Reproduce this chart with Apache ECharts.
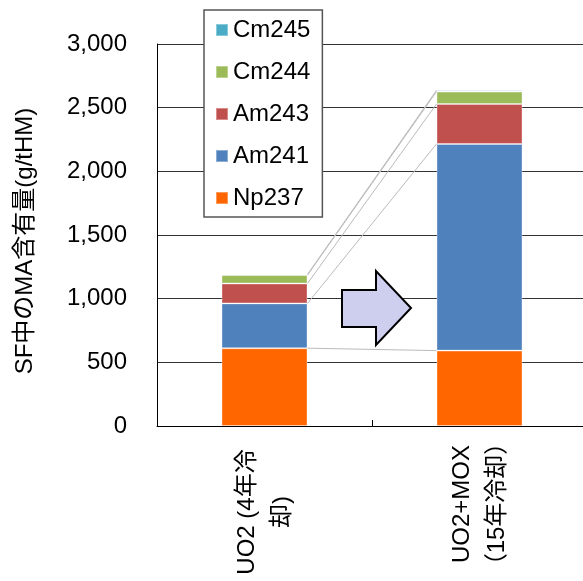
<!DOCTYPE html>
<html>
<head>
<meta charset="utf-8">
<script src="https://cdn.jsdelivr.net/npm/echarts@6/dist/echarts.min.js"></script>
<style>html,body{margin:0;padding:0;background:#fff}#c{width:583px;height:581px}</style>
</head>
<body>
<div id="c"></div>
<script>
var categories = ['UO2 (4年冷\n却)', 'UO2+MOX\n（15年冷却）'];
var seriesNames = ['Np237', 'Am241', 'Am243', 'Cm244', 'Cm245'];
var np237 = [611, 592];
var am241 = [352, 1623];
var am243 = [156, 314];
var cm244 = [66, 97];
var cm245 = [6, 10];
var yTicks = [0, 500, 1000, 1500, 2000, 2500, 3000];
var colors = ['#FF6600', '#4F81BD', '#C0504D', '#9BBB59', '#4BACC6'];
var legendOrder = ['Cm245', 'Cm244', 'Am243', 'Am241', 'Np237'];

var values = [np237, am241, am243, cm244, cm245];
var FONT = '"Liberation Sans", Arial, "Noto Sans CJK JP", sans-serif';

var cumData = [];
var running = [0, 0];
values.forEach(function (arr) {
  running = [running[0] + arr[0], running[1] + arr[1]];
  cumData.push([running[0], running[1]]);
});

var barSeries = seriesNames.map(function (n, i) {
  return {
    name: n,
    type: 'bar',
    stack: 'total',
    barWidth: '40%',
    data: values[i],
    itemStyle: { color: colors[i], borderColor: 'rgba(255,255,255,0.35)', borderWidth: 1 },
    emphasis: { disabled: true }
  };
});

var connector = {
  type: 'custom',
  silent: true,
  data: cumData,
  z: 5,
  renderItem: function (params, api) {
    var a = api.coord([0, api.value(0)]);
    var b = api.coord([1, api.value(1)]);
    var half = api.size([1, 0])[0] * 0.2;
    return {
      type: 'line',
      shape: { x1: a[0] + half, y1: a[1], x2: b[0] - half, y2: b[1] },
      style: { stroke: '#BBBBBB', lineWidth: 1 }
    };
  },
  encode: { x: 0, y: 1 }
};

var catData = categories.map(function (c, i) {
  return i === 1 ? { value: c, textStyle: { align: 'center', verticalAlign: 'middle', padding: [0, 0, 0, 16] } } : c;
});

var chart = echarts.init(document.getElementById('c'), null, { renderer: 'canvas' });
chart.setOption({
  animation: false,
  backgroundColor: '#fff',
  textStyle: { fontFamily: FONT },
  grid: { left: 157, top: 44, width: 430, bottom: 155, containLabel: false, outerBoundsMode: 'none' },
  legend: {
    data: legendOrder,
    orient: 'vertical',
    left: 204,
    top: 10,
    padding: [8, 12, 7, 11],
    itemGap: 18,
    itemWidth: 12,
    itemHeight: 12,
    icon: 'rect',
    backgroundColor: '#fff',
    borderColor: '#555',
    borderWidth: 1.5,
    borderRadius: 0,
    textStyle: { fontSize: 24, color: '#000', fontFamily: FONT },
    selectedMode: false,
    z: 10
  },
  xAxis: {
    type: 'category',
    data: catData,
    axisLine: { lineStyle: { color: '#000', width: 1 } },
    axisTick: { show: true, inside: true, length: 6, lineStyle: { color: '#000' } },
    axisLabel: {
      interval: 0,
      rotate: 90,
      align: 'center',
      verticalAlign: 'middle',
      margin: 86,
      fontSize: 24,
      lineHeight: 35,
      color: '#000',
      fontFamily: FONT
    },
    splitLine: { show: false }
  },
  yAxis: {
    type: 'value',
    min: 0,
    max: 3000,
    interval: 500,
    name: 'SF中のMA含有量(g/tHM)',
    nameLocation: 'middle',
    nameGap: 120,
    nameTextStyle: { fontSize: 24, color: '#000', fontFamily: FONT, padding: [0, 12, 0, 0] },
    axisLine: { show: true, lineStyle: { color: '#000', width: 1 } },
    axisTick: { show: false },
    axisLabel: {
      fontSize: 24,
      color: '#000',
      margin: 30,
      fontFamily: FONT,
      formatter: function (v) { return yTicks.indexOf(v) >= 0 ? v.toLocaleString('en-US') : ''; }
    },
    splitLine: { show: true, lineStyle: { color: '#333', width: 1 } }
  },
  series: barSeries.concat([connector]),
  graphic: [{
    type: 'polygon',
    z: 20,
    shape: { points: [[342, 290], [376, 290], [376, 271], [411, 308], [376, 345], [376, 327], [342, 327]] },
    style: { fill: '#CECFEE', stroke: '#000', lineWidth: 2, lineJoin: 'miter' }
  }]
});
</script>
</body>
</html>
